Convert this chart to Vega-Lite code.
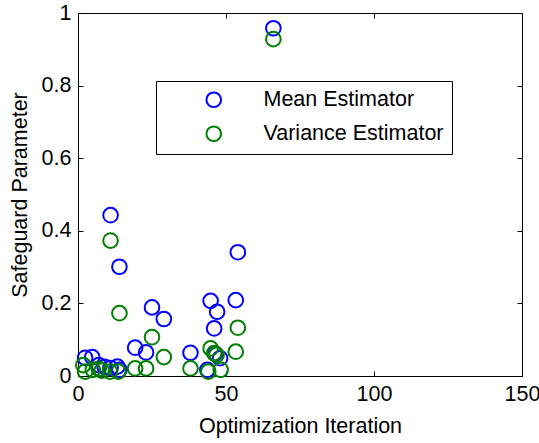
{
  "$schema": "https://vega.github.io/schema/vega-lite/v6.json",
  "width": 444,
  "height": 363,
  "autosize": {"type": "none"},
  "padding": {"left": 78, "top": 13, "right": 17, "bottom": 67},
  "background": "white",
  "config": {
    "font": "Liberation Sans",
    "view": {"stroke": "black", "strokeWidth": 1},
    "axis": {"grid": false, "domainColor": "black", "tickColor": "black", "labelColor": "black", "titleColor": "black", "labelFont": "Liberation Sans", "titleFont": "Liberation Sans", "labelFontSize": 21.5, "titleFontSize": 21.5, "titleFontWeight": "normal", "tickSize": -5, "labelPadding": 12, "labelFlush": false, "labelOverlap": false}
  },
  "datasets": {
    "pts": [
      {"iteration": 66, "value": 0.958, "series": "Mean Estimator"},
      {"iteration": 11, "value": 0.443, "series": "Mean Estimator"},
      {"iteration": 14, "value": 0.301, "series": "Mean Estimator"},
      {"iteration": 25, "value": 0.189, "series": "Mean Estimator"},
      {"iteration": 29, "value": 0.157, "series": "Mean Estimator"},
      {"iteration": 19.3, "value": 0.078, "series": "Mean Estimator"},
      {"iteration": 23, "value": 0.065, "series": "Mean Estimator"},
      {"iteration": 38, "value": 0.064, "series": "Mean Estimator"},
      {"iteration": 44.8, "value": 0.207, "series": "Mean Estimator"},
      {"iteration": 47, "value": 0.177, "series": "Mean Estimator"},
      {"iteration": 46, "value": 0.131, "series": "Mean Estimator"},
      {"iteration": 53.3, "value": 0.209, "series": "Mean Estimator"},
      {"iteration": 54, "value": 0.341, "series": "Mean Estimator"},
      {"iteration": 43.7, "value": 0.017, "series": "Mean Estimator"},
      {"iteration": 48, "value": 0.049, "series": "Mean Estimator"},
      {"iteration": 46.3, "value": 0.062, "series": "Mean Estimator"},
      {"iteration": 2.4, "value": 0.05, "series": "Mean Estimator"},
      {"iteration": 4.8, "value": 0.052, "series": "Mean Estimator"},
      {"iteration": 7, "value": 0.03, "series": "Mean Estimator"},
      {"iteration": 9, "value": 0.025, "series": "Mean Estimator"},
      {"iteration": 11, "value": 0.022, "series": "Mean Estimator"},
      {"iteration": 13.3, "value": 0.026, "series": "Mean Estimator"},
      {"iteration": 14, "value": 0.017, "series": "Mean Estimator"},
      {"iteration": 66, "value": 0.928, "series": "Variance Estimator"},
      {"iteration": 11, "value": 0.373, "series": "Variance Estimator"},
      {"iteration": 14, "value": 0.173, "series": "Variance Estimator"},
      {"iteration": 25, "value": 0.107, "series": "Variance Estimator"},
      {"iteration": 29, "value": 0.052, "series": "Variance Estimator"},
      {"iteration": 19.3, "value": 0.021, "series": "Variance Estimator"},
      {"iteration": 23, "value": 0.021, "series": "Variance Estimator"},
      {"iteration": 38, "value": 0.021, "series": "Variance Estimator"},
      {"iteration": 44.8, "value": 0.076, "series": "Variance Estimator"},
      {"iteration": 46, "value": 0.063, "series": "Variance Estimator"},
      {"iteration": 46.8, "value": 0.058, "series": "Variance Estimator"},
      {"iteration": 44, "value": 0.012, "series": "Variance Estimator"},
      {"iteration": 48.2, "value": 0.017, "series": "Variance Estimator"},
      {"iteration": 53.3, "value": 0.067, "series": "Variance Estimator"},
      {"iteration": 54, "value": 0.133, "series": "Variance Estimator"},
      {"iteration": 1.8, "value": 0.03, "series": "Variance Estimator"},
      {"iteration": 2.4, "value": 0.012, "series": "Variance Estimator"},
      {"iteration": 5, "value": 0.017, "series": "Variance Estimator"},
      {"iteration": 7, "value": 0.02, "series": "Variance Estimator"},
      {"iteration": 8, "value": 0.015, "series": "Variance Estimator"},
      {"iteration": 10.8, "value": 0.012, "series": "Variance Estimator"},
      {"iteration": 13.6, "value": 0.012, "series": "Variance Estimator"}
    ]
  },
  "data": {"name": "pts"},
  "layer": [
    {
      "mark": {"type": "point", "shape": "circle", "filled": false, "strokeWidth": 2, "size": 215, "opacity": 1},
      "encoding": {
        "x": {"field": "iteration", "type": "quantitative", "scale": {"domain": [0, 150], "nice": false, "zero": false}, "axis": {"orient": "bottom", "values": [0, 50, 100, 150], "title": "Optimization Iteration", "titlePadding": 11}},
        "y": {"field": "value", "type": "quantitative", "scale": {"domain": [0, 1], "nice": false}, "axis": {"orient": "left", "values": [0, 0.2, 0.4, 0.6, 0.8, 1], "format": ".1~f", "title": "Safeguard Parameter", "titlePadding": 10}},
        "color": {"field": "series", "type": "nominal", "scale": {"domain": ["Mean Estimator", "Variance Estimator"], "range": ["#0000ff", "#008000"]},
          "legend": {"title": null, "orient": "none", "legendX": 78, "legendY": 68, "padding": 8, "fillColor": "white", "strokeColor": "black", "symbolType": "circle", "symbolSize": 215, "symbolStrokeWidth": 2, "symbolFillColor": "transparent", "symbolOffset": 39, "labelOffset": 39, "labelFontSize": 21.5, "labelFont": "Liberation Sans", "labelColor": "black", "rowPadding": 10, "labelLimit": 300}},
        "order": {"field": "series", "type": "nominal"}
      }
    },
    {
      "mark": {"type": "point", "opacity": 0},
      "encoding": {
        "x": {"field": "iteration", "type": "quantitative", "axis": {"orient": "top", "values": [0, 50, 100, 150], "labels": false, "title": null}},
        "y": {"field": "value", "type": "quantitative", "axis": {"orient": "right", "values": [0, 0.2, 0.4, 0.6, 0.8, 1], "labels": false, "title": null}}
      }
    }
  ],
  "resolve": {"axis": {"x": "independent", "y": "independent"}}
}
